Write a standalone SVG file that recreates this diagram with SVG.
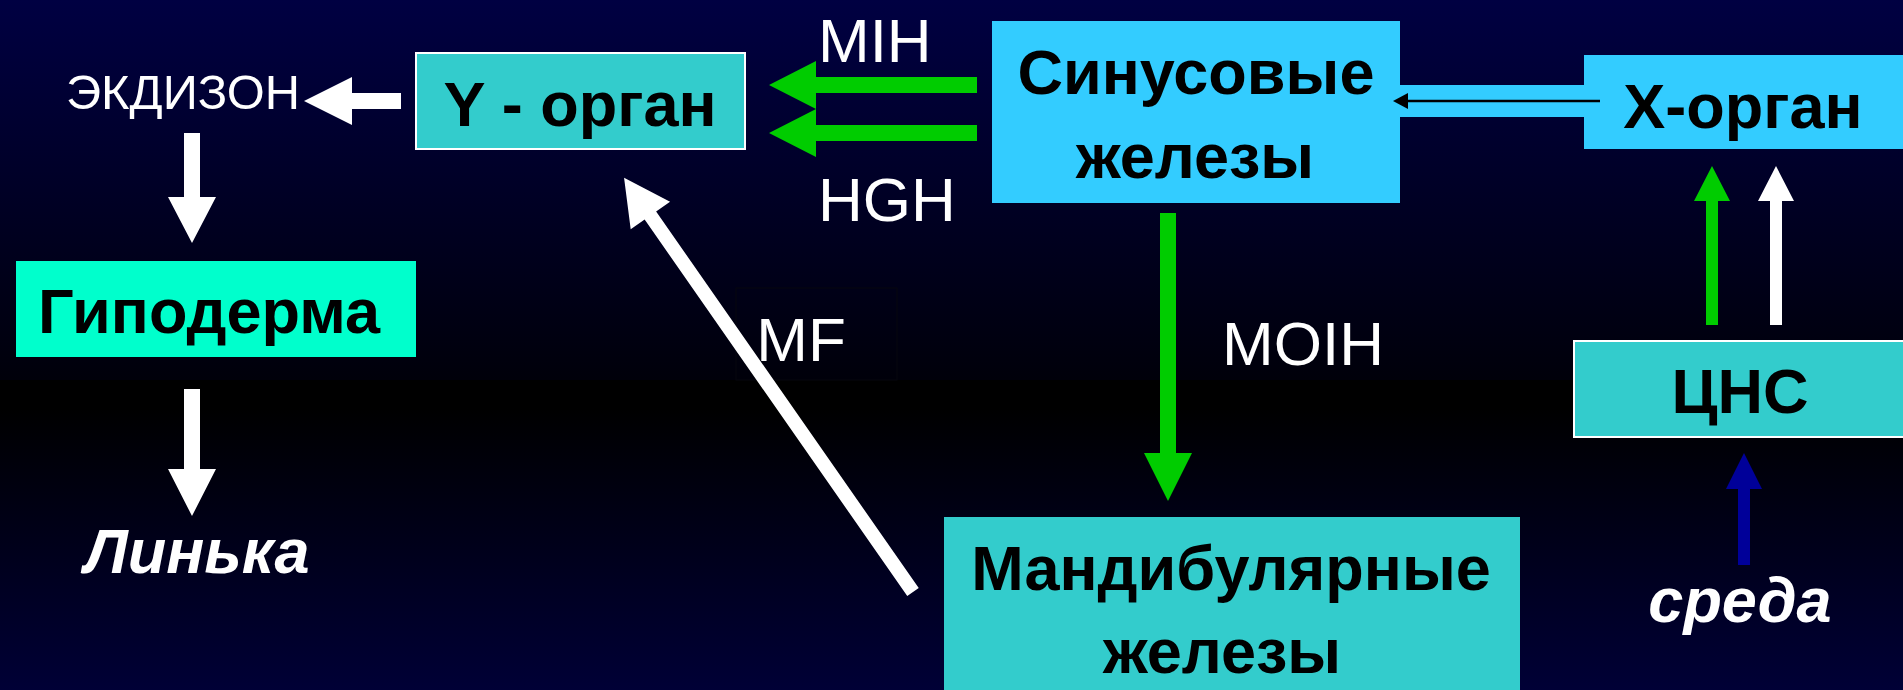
<svg xmlns="http://www.w3.org/2000/svg" width="1903" height="690" viewBox="0 0 1903 690">
<defs>
<linearGradient id="bgTop" x1="0" y1="0" x2="0" y2="1">
<stop offset="0" stop-color="#000042"/>
<stop offset="1" stop-color="#00000A"/>
</linearGradient>
<linearGradient id="bgBot" x1="0" y1="0" x2="0" y2="1">
<stop offset="0" stop-color="#000000"/>
<stop offset="0.09" stop-color="#000000"/>
<stop offset="1" stop-color="#000036"/>
</linearGradient>
<style>
.bold{font-family:"Liberation Sans",Arial,sans-serif;font-weight:bold;font-size:63px;fill:#000;text-anchor:middle}
.lbl{font-family:"Liberation Sans",Arial,sans-serif;font-size:62px;fill:#fff}
.small{font-size:49px}
.it{font-family:"Liberation Sans",Arial,sans-serif;font-weight:bold;font-style:italic;font-size:63px;fill:#fff;text-anchor:middle}
.cyan{fill:#33CCCC}
.sky{fill:#33CCFF}
.bord{stroke:#fff;stroke-width:2}
.w{fill:#fff}
.g{fill:#00CC00}
.b{fill:#000099}
</style>
</defs>
<rect x="0" y="0" width="1903" height="380" fill="url(#bgTop)"/>
<rect x="0" y="380" width="1903" height="310" fill="url(#bgBot)"/>

<g id="mf-label">
<rect x="736" y="288" width="161" height="92" fill="none" stroke="#06060f" stroke-width="1"/>
<text class="lbl" x="801" y="361" text-anchor="middle">MF</text>
</g>

<g id="connectors">
<polygon class="w" points="401,93 352,93 352,77 304,101 352,125 352,109 401,109"/>
<polygon class="w" points="184,133 200,133 200,197 216,197 192,243 168,197 184,197"/>
<polygon class="w" points="184,389 200,389 200,469 216,469 192,516 168,469 184,469"/>
<polygon class="g" points="977,77 816,77 816,61 769,85 816,109 816,93 977,93"/>
<polygon class="g" points="977,125 816,125 816,109 769,133 816,157 816,141 977,141"/>
<polygon class="g" points="1160,213 1176,213 1176,453 1192,453 1168,501 1144,453 1160,453"/>
<polygon class="g" points="1706,325 1718,325 1718,201 1730,201 1712,166 1694,201 1706,201"/>
<polygon class="w" points="1770,325 1782,325 1782,201 1794,201 1776,166 1758,201 1770,201"/>
<polygon class="b" points="1738,565 1750,565 1750,489 1762,489 1744,453 1726,489 1738,489"/>
<polygon class="w" transform="translate(913,592) rotate(-124.9)" points="0,-7 459,-7 459,-24 505,0 459,24 459,7 0,7"/>
<rect class="sky" x="1398" y="85" width="188" height="32"/>
</g>

<g id="ecdysone"><text class="lbl small" x="183" y="109" text-anchor="middle" textLength="234" lengthAdjust="spacingAndGlyphs">ЭКДИЗОН</text></g>

<g id="y-organ">
<rect class="cyan bord" x="416" y="53" width="329" height="96"/>
<text class="bold" x="580" y="126">Y - орган</text>
</g>

<g id="hypoderm">
<rect x="16" y="261" width="400" height="96" fill="#00FFCC"/>
<text class="bold" x="209" y="333">Гиподерма</text>
</g>

<g id="molt"><text class="it" x="197" y="573">Линька</text></g>

<g id="mih"><text class="lbl" x="818" y="62">MIH</text></g>
<g id="hgh"><text class="lbl" x="818" y="221">HGH</text></g>

<g id="sinus">
<rect class="sky" x="992" y="21" width="408" height="182"/>
<text class="bold" x="1196" y="94">Синусовые</text>
<text class="bold" x="1195" y="178">железы</text>
</g>

<g id="x-organ">
<rect class="sky" x="1584" y="55" width="319" height="94"/>
<text class="bold" x="1743" y="128">X-орган</text>
</g>

<g id="x-to-sinus">
<line x1="1600" y1="101" x2="1405" y2="101" stroke="#000" stroke-width="2.5"/>
<polygon points="1393,101 1408,93 1408,109" fill="#000"/>
</g>

<g id="cns">
<rect class="cyan bord" x="1574" y="341" width="332" height="96"/>
<text class="bold" x="1740" y="413">ЦНС</text>
</g>

<g id="environment"><text class="it" x="1740" y="622">среда</text></g>

<g id="moih"><text class="lbl" x="1303" y="365" text-anchor="middle">MOIH</text></g>

<g id="mandibular">
<rect class="cyan" x="944" y="517" width="576" height="180"/>
<text class="bold" x="1231" y="590">Мандибулярные</text>
<text class="bold" x="1222" y="673">железы</text>
</g>
</svg>
